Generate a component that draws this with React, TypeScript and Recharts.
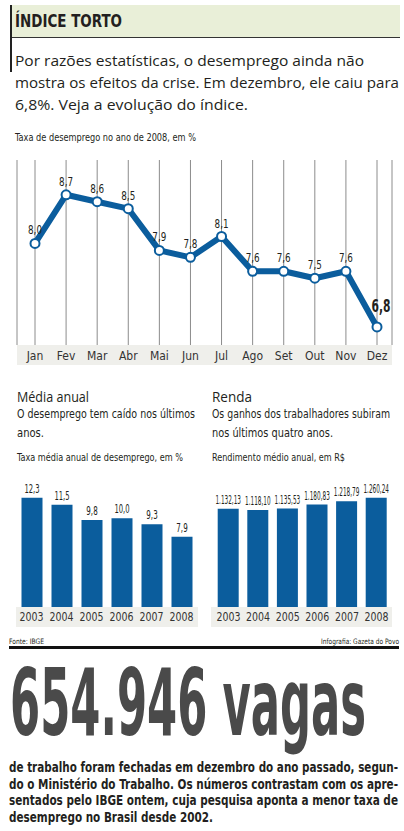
import React from 'react';
import { LineChart, Line, XAxis, YAxis, CartesianGrid, LabelList, BarChart, Bar } from 'recharts';

const months = ['Jan', 'Fev', 'Mar', 'Abr', 'Mai', 'Jun', 'Jul', 'Ago', 'Set', 'Out', 'Nov', 'Dez'];
const monthlyRate = [8.0, 8.7, 8.6, 8.5, 7.9, 7.8, 8.1, 7.6, 7.6, 7.5, 7.6, 6.8];
const years = ['2003', '2004', '2005', '2006', '2007', '2008'];
const annualRate = [12.3, 11.5, 9.8, 10.0, 9.3, 7.9];
const income = [1132.13, 1118.1, 1135.53, 1180.83, 1218.79, 1260.24];

const lineData = months.map((m, i) => ({ month: m, value: monthlyRate[i] }));
const rateData = years.map((y, i) => ({ year: y, value: annualRate[i] }));
const incomeData = years.map((y, i) => ({ year: y, value: income[i] }));

const BLUE = '#0b5d9d';
const INK = '#231f20';
const COND = "'DejaVu Sans Condensed', 'Liberation Sans Narrow', sans-serif";
const SANS = "'Open Sans', 'Noto Sans', sans-serif";

const fmt1 = (v: number) => v.toFixed(1).replace('.', ',');
const fmtMoney = (v: number) => {
  const [i, d] = v.toFixed(2).split('.');
  return i.replace(/\B(?=(\d{3})+(?!\d))/g, '.') + ',' + d;
};

const LineLabel = (p: any) => {
  const { x, y, value, index } = p;
  const last = index === monthlyRate.length - 1;
  const s = fmt1(Number(value));
  if (last) {
    return (
      <text x={x + 4} y={y - 15} textAnchor="middle" fontFamily={COND} fontWeight="bold" fontSize={17} fill={INK} textLength={19} lengthAdjust="spacingAndGlyphs">
        {s}
      </text>
    );
  }
  return (
    <text x={x} y={y - 9} textAnchor="middle" fontFamily={COND} fontSize={12.5} fill={INK} textLength={14} lengthAdjust="spacingAndGlyphs">
      {s}
    </text>
  );
};

const MonthTick = (p: any) => {
  const { x, y, payload } = p;
  return (
    <text x={x} y={y} dy={15} textAnchor="middle" fontFamily={COND} fontSize={12} fill="#333">
      {payload.value}
    </text>
  );
};

const YearTick = (p: any) => {
  const { x, y, payload } = p;
  return (
    <text x={x} y={y} dy={14} textAnchor="middle" fontFamily={COND} fontSize={12.5} fill="#333" textLength={24} lengthAdjust="spacingAndGlyphs">
      {payload.value}
    </text>
  );
};

const RateLabel = (p: any) => {
  const { x, y, width, value } = p;
  const s = fmt1(Number(value));
  return (
    <text x={x + width / 2} y={y - 5} textAnchor="middle" fontFamily={COND} fontSize={11.5} fill={INK} textLength={s.length * 3.8} lengthAdjust="spacingAndGlyphs">
      {s}
    </text>
  );
};

const IncomeLabel = (p: any) => {
  const { x, y, width, value } = p;
  const s = fmtMoney(Number(value));
  return (
    <text x={x + width / 2} y={y - 5} textAnchor="middle" fontFamily={COND} fontSize={11.5} fill={INK} textLength={s.length * 3.2} lengthAdjust="spacingAndGlyphs">
      {s}
    </text>
  );
};

const T = (props: any) => <text fill={INK} {...props} />;

export default function App() {
  return (
    <div style={{ position: 'absolute', left: 0, top: 0, width: 404, height: 831, background: '#fff', overflow: 'hidden' }}>
      <svg width={404} height={831} style={{ position: 'absolute', left: 0, top: 0 }}>
        <rect x={11} y={5} width={389} height={32} fill="#e9efd8" />
        <line x1={11} y1={37.5} x2={400} y2={37.5} stroke="#333" strokeWidth={1} />
        <rect x={10} y={5} width={2} height={67} fill="#222" />
        <T x={15} y={27} fontFamily={COND} fontWeight="bold" fontSize={17} textLength={107} lengthAdjust="spacingAndGlyphs">ÍNDICE TORTO</T>

        <T x={15} y={66} fontFamily={SANS} fontSize={15} textLength={349} lengthAdjust="spacingAndGlyphs">Por razões estatísticas, o desemprego ainda não</T>
        <T x={15} y={88} fontFamily={SANS} fontSize={15} textLength={384} lengthAdjust="spacingAndGlyphs">mostra os efeitos da crise. Em dezembro, ele caiu para</T>
        <T x={15} y={110} fontFamily={SANS} fontSize={15} textLength={233} lengthAdjust="spacingAndGlyphs">6,8%. Veja a evolução do índice.</T>

        <T x={15} y={141} fontFamily={COND} fontSize={10} textLength={181} lengthAdjust="spacingAndGlyphs">Taxa de desemprego no ano de 2008, em %</T>

        <rect x={17} y={345} width={375} height={20} fill="#efefeb" />

        <T x={17} y={402} fontFamily={SANS} fontSize={14} textLength={72} lengthAdjust="spacingAndGlyphs">Média anual</T>
        <T x={17} y={418} fontFamily={COND} fontSize={13} textLength={178} lengthAdjust="spacingAndGlyphs">O desemprego tem caído nos últimos</T>
        <T x={17} y={437} fontFamily={COND} fontSize={13} textLength={27} lengthAdjust="spacingAndGlyphs">anos.</T>
        <T x={17} y={461} fontFamily={COND} fontSize={10} textLength={166} lengthAdjust="spacingAndGlyphs">Taxa média anual de desemprego, em %</T>

        <T x={212} y={402} fontFamily={SANS} fontSize={14} textLength={40} lengthAdjust="spacingAndGlyphs">Renda</T>
        <T x={212} y={418} fontFamily={COND} fontSize={13} textLength={178} lengthAdjust="spacingAndGlyphs">Os ganhos dos trabalhadores subiram</T>
        <T x={212} y={437} fontFamily={COND} fontSize={13} textLength={121} lengthAdjust="spacingAndGlyphs">nos últimos quatro anos.</T>
        <T x={212} y={461} fontFamily={COND} fontSize={10} textLength={133} lengthAdjust="spacingAndGlyphs">Rendimento médio anual, em R$</T>

        <rect x={16} y={607} width={182} height={20} fill="#efefeb" />
        <rect x={211} y={607} width={181} height={20} fill="#efefeb" />

        <T x={9} y={644} fontFamily={COND} fontSize={7.5} textLength={35} lengthAdjust="spacingAndGlyphs">Fonte: IBGE</T>
        <T x={399} y={644} textAnchor="end" fontFamily={COND} fontSize={7.5} textLength={78} lengthAdjust="spacingAndGlyphs">Infografia: Gazeta do Povo</T>
        <rect x={9} y={646} width={390} height={3} fill="#111" />

        <text x={10} y={735} fill="#4a4a4a" fontFamily={COND} fontWeight="bold" fontSize={92} textLength={356} lengthAdjust="spacingAndGlyphs">654.946 vagas</text>

        <T x={9} y={772} fontFamily={COND} fontWeight="bold" fontSize={14} textLength={389} lengthAdjust="spacingAndGlyphs">de trabalho foram fechadas em dezembro do ano passado, segun-</T>
        <T x={9} y={789} fontFamily={COND} fontWeight="bold" fontSize={14} textLength={389} lengthAdjust="spacingAndGlyphs">do o Ministério do Trabalho. Os números contrastam com os apre-</T>
        <T x={9} y={805} fontFamily={COND} fontWeight="bold" fontSize={14} textLength={389} lengthAdjust="spacingAndGlyphs">sentados pelo IBGE ontem, cuja pesquisa aponta a menor taxa de</T>
        <T x={9} y={822} fontFamily={COND} fontWeight="bold" fontSize={14} textLength={204} lengthAdjust="spacingAndGlyphs">desemprego no Brasil desde 2002.</T>
      </svg>

      <div style={{ position: 'absolute', left: 0, top: 150 }}>
        <LineChart width={404} height={220} data={lineData} margin={{ top: 10, right: 12, bottom: 5, left: 17 }}>
          <CartesianGrid vertical horizontal={false} stroke="#8c8c8c" strokeWidth={1} />
          <XAxis dataKey="month" padding={{ left: 18, right: 15 }} axisLine={false} tickLine={false} tickSize={0} tickMargin={0} height={20} interval={0} tick={<MonthTick />} />
          <YAxis hide domain={[6.54, 9.2]} />
          <Line type="linear" dataKey="value" stroke={BLUE} strokeWidth={6} strokeLinejoin="round" isAnimationActive={false}
            dot={{ r: 4.5, fill: '#fff', stroke: BLUE, strokeWidth: 2 }} activeDot={false}>
            <LabelList dataKey="value" content={<LineLabel />} />
          </Line>
        </LineChart>
      </div>

      <div style={{ position: 'absolute', left: 0, top: 470 }}>
        <BarChart width={404} height={160} data={rateData} margin={{ top: 27.7, right: 207.5, bottom: 3, left: 16.5 }}>
          <XAxis dataKey="year" axisLine={false} tickLine={false} tickSize={0} tickMargin={0} height={20} interval={0} tick={<YearTick />} />
          <YAxis hide domain={[0, 'dataMax']} />
          <Bar dataKey="value" fill={BLUE} barSize={21} isAnimationActive={false}>
            <LabelList dataKey="value" content={<RateLabel />} />
          </Bar>
        </BarChart>
      </div>

      <div style={{ position: 'absolute', left: 0, top: 470 }}>
        <BarChart width={404} height={160} data={incomeData} margin={{ top: 27.7, right: 12.7, bottom: 3, left: 213.7 }}>
          <XAxis dataKey="year" axisLine={false} tickLine={false} tickSize={0} tickMargin={0} height={20} interval={0} tick={<YearTick />} />
          <YAxis hide domain={[0, 'dataMax']} />
          <Bar dataKey="value" fill={BLUE} barSize={21} isAnimationActive={false}>
            <LabelList dataKey="value" content={<IncomeLabel />} />
          </Bar>
        </BarChart>
      </div>
    </div>
  );
}
